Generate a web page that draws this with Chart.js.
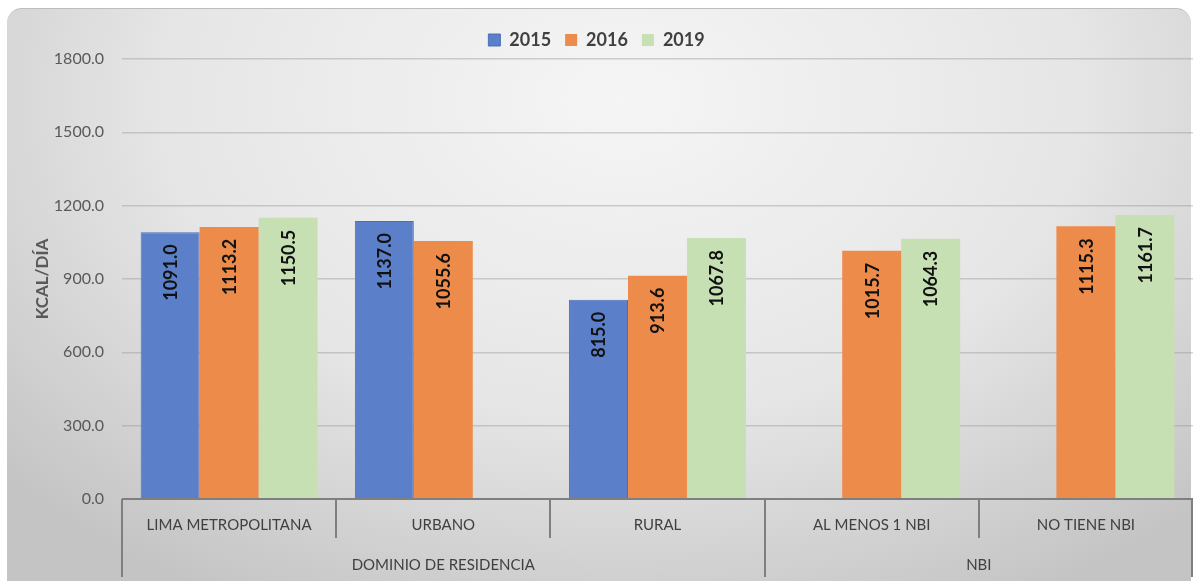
<!DOCTYPE html>
<html>
<head>
<meta charset="utf-8">
<script src="https://cdn.jsdelivr.net/npm/chart.js@4"></script>
<style>
    body { margin: 0; width: 1196px; height: 581px; overflow: hidden; background: #ffffff; }
    #card {
        position: absolute; left: 7px; top: 8px; width: 1184px; height: 600px;
        border-radius: 15px;
        border-top: 1px solid #bdbdbd;
        background: radial-gradient(ellipse 70% 95% at 52% 15%, #f5f5f5 0%, #e6e6e6 55%, #c4c4c4 100%);
    }
    #wrap { position: absolute; left: 0; top: 0; width: 1196px; height: 581px; }
</style>
</head>
<body>
<div id="card"></div>
<div id="wrap"><canvas id="chartKcal" width="1196" height="581"></canvas></div>
<script>
// Données
const categories = ['LIMA METROPOLITANA', 'URBANO', 'RURAL', 'AL MENOS 1 NBI', 'NO TIENE NBI'];
const groupes = ['DOMINIO DE RESIDENCIA', 'NBI'];
const tailleGroupes = [3, 2];
const annees = ['2015', '2016', '2019'];
const valeurs2015 = [1091.0, 1137.0, 815.0, null, null];
const valeurs2016 = [1113.2, 1055.6, 913.6, 1015.7, 1115.3];
const valeurs2019 = [1150.5, null, 1067.8, 1064.3, 1161.7];
const ticksY = [0, 300, 600, 900, 1200, 1500, 1800];

const police = 'Lato, "Open Sans", sans-serif';

// Étiquettes de valeur verticales dans les barres
const etiquettesBarres = {
    id: 'etiquettesBarres',
    afterDraw(chart) {
        const ctx = chart.ctx;
        ctx.save();
        ctx.font = 'bold 18px ' + police;
        ctx.fillStyle = '#111111';
        ctx.textAlign = 'right';
        ctx.textBaseline = 'middle';
        chart.data.datasets.forEach((ds, i) => {
            chart.getDatasetMeta(i).data.forEach((bar, j) => {
                const v = ds.data[j];
                if (v === null || v === undefined) return;
                ctx.save();
                ctx.translate(bar.x + 1, bar.y + 12);
                ctx.rotate(-Math.PI / 2);
                ctx.fillText(v.toFixed(1), 0, 0);
                ctx.restore();
            });
        });
        ctx.restore();
    }
};

// Axe X à deux niveaux : séparateurs et libellés de groupe
const axeGroupes = {
    id: 'axeGroupes',
    afterDraw(chart) {
        const ctx = chart.ctx;
        const area = chart.chartArea;
        const pas = (area.right - area.left) / categories.length;
        ctx.save();
        ctx.strokeStyle = '#7f7f7f';
        ctx.lineWidth = 2;
        ctx.beginPath();
        ctx.moveTo(area.left, area.bottom);
        ctx.lineTo(area.right, area.bottom);
        ctx.stroke();

        // limites de groupes
        const limitesGroupes = [0];
        tailleGroupes.reduce((acc, n) => { limitesGroupes.push(acc + n); return acc + n; }, 0);

        for (let k = 0; k <= categories.length; k++) {
            const px = Math.round(area.left + k * pas) - (k === categories.length ? 1 : 0);
            const long = limitesGroupes.includes(k);
            ctx.beginPath();
            ctx.moveTo(px, area.bottom);
            ctx.lineTo(px, long ? area.bottom + 78 : area.bottom + 39);
            ctx.stroke();
        }

        ctx.font = '15px ' + police;
        ctx.fillStyle = '#404040';
        ctx.textAlign = 'center';
        ctx.textBaseline = 'middle';
        groupes.forEach((g, i) => {
            const x0 = area.left + limitesGroupes[i] * pas;
            const x1 = area.left + limitesGroupes[i + 1] * pas;
            ctx.fillText(g, (x0 + x1) / 2, area.bottom + 66);
        });
        ctx.restore();
    }
};

const canvas = document.getElementById('chartKcal');

new Chart(canvas, {
    type: 'bar',
    data: {
        labels: categories,
        datasets: [
            { label: annees[0], data: valeurs2015, backgroundColor: '#5b80c9', borderColor: '#4a6fb8', borderWidth: 1 },
            { label: annees[1], data: valeurs2016, backgroundColor: '#ed8b4b', borderColor: '#ed8b4b', borderWidth: 0 },
            { label: annees[2], data: valeurs2019, backgroundColor: '#c6e0b4', borderColor: '#c6e0b4', borderWidth: 0 }
        ]
    },
    options: {
        responsive: false,
        animation: false,
        devicePixelRatio: 1,
        layout: { padding: { top: 17, right: 3, left: 0, bottom: 0 } },
        datasets: { bar: { barPercentage: 1, categoryPercentage: 0.826 } },
        plugins: {
            legend: {
                display: true,
                position: 'top',
                labels: {
                    boxWidth: 12,
                    boxHeight: 12,
                    padding: 14,
                    color: '#404040',
                    font: { family: police, size: 18, weight: 'bold' }
                }
            },
            tooltip: { enabled: false }
        },
        scales: {
            y: {
                min: 0,
                max: 1800,
                z: 1,
                afterBuildTicks(scale) {
                    scale.ticks = ticksY.map(v => ({ value: v }));
                },
                afterFit(scale) { scale.width = 122; },
                border: { display: false },
                grid: { color: 'rgba(150,150,150,0.42)', lineWidth: 1.5, drawTicks: false },
                ticks: {
                    padding: 18,
                    color: '#595959',
                    font: { family: police, size: 16 },
                    callback: v => Number(v).toFixed(1)
                },
                title: {
                    display: true,
                    text: 'KCAL/DÍA',
                    color: '#595959',
                    padding: { top: 32, bottom: 0 },
                    font: { family: police, size: 17, weight: 'bold' }
                }
            },
            x: {
                afterFit(scale) { scale.height = 82; },
                border: { display: false },
                grid: { display: false, drawTicks: false },
                ticks: {
                    padding: 17,
                    color: '#404040',
                    maxRotation: 0,
                    autoSkip: false,
                    font: { family: police, size: 15 }
                }
            }
        }
    },
    plugins: [etiquettesBarres, axeGroupes]
});
</script>
</body>
</html>
